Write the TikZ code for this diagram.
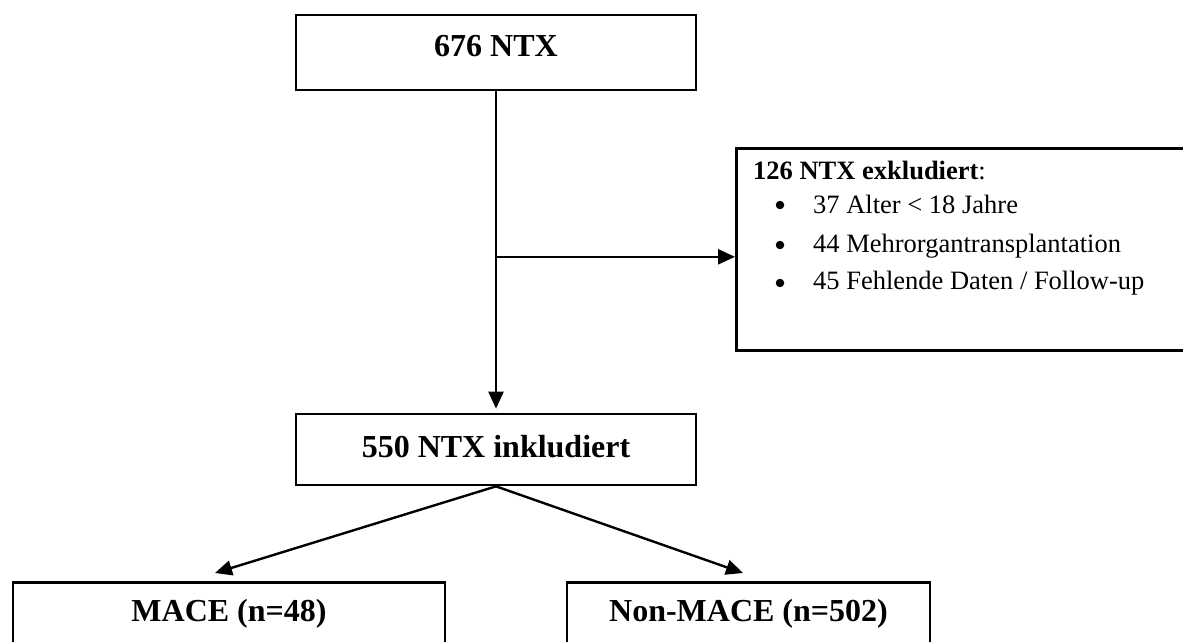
\documentclass[tikz,border=0pt]{standalone}
\usepackage{fontspec}
\setmainfont{Liberation Serif}
\usetikzlibrary{arrows.meta,calc}
\tikzset{
  boxnode/.style={draw=black, line width=2.7pt, inner sep=0pt, fill=white},
  headfont/.style={font=\fontsize{32}{38}\selectfont\bfseries},
  listfont/.style={font=\fontsize{26.5}{32}\selectfont, inner sep=0pt},
  bulletdot/.style={circle, fill=black, inner sep=0pt, minimum size=8.5pt},
  conn/.style={line width=2.4pt, -{Triangle[length=17pt,width=15pt]}}
}
\begin{document}
\begin{tikzpicture}[x=1pt,y=-1pt]
\path[use as bounding box, clip] (0,0) rectangle (1183,642);
\fill[white] (0,0) rectangle (1183,642);
% top box
\node[boxnode, headfont, minimum width=400pt, minimum height=75pt, text height=23pt, text depth=14pt] (top) at (496,52.5) {676 NTX};
% middle box
\node[boxnode, headfont, minimum width=400pt, minimum height=71pt, text height=23pt, text depth=8pt] (mid) at (496,449.5) {550 NTX inkludiert};
% exclusion box
\node[boxnode, anchor=north west, minimum width=480pt, minimum height=202pt] (excl) at (735,147) {};
\node[listfont, anchor=base west] (exh) at (753,179) {\textbf{126 NTX exkludiert}:};
\node[bulletdot] (b1) at (780,205) {};
\node[listfont, anchor=base west] (e1) at (813,213) {37 Alter < 18 Jahre};
\node[bulletdot] (b2) at (780,245) {};
\node[listfont, anchor=base west] (e2) at (813,252) {44 Mehrorgantransplantation};
\node[bulletdot] (b3) at (780,283) {};
\node[listfont, anchor=base west] (e3) at (813,289) {45 Fehlende Daten / Follow-up};
% bottom boxes
\node[boxnode, headfont, anchor=north, minimum width=432pt, inner ysep=16pt, text height=23pt, text depth=70pt] (mace) at (229,581) {MACE (n=48)};
\node[boxnode, headfont, anchor=north, minimum width=363pt, inner ysep=16pt, text height=23pt, text depth=70pt] (nonmace) at (748.5,581) {Non-MACE (n=502)};
% connectors
\coordinate (branch) at ($(top.south)!0.515!(mid.north)$);
\draw[conn, shorten >=4pt] (top.south) -- (mid.north);
\draw[conn] (branch) -- (branch -| excl.west);
\draw[conn] (mid.south) -- ($(mace.north)+(-14,-8)$);
\draw[conn] (mid.south) -- ($(nonmace.north)+(-5.5,-8)$);
\end{tikzpicture}
\end{document}
